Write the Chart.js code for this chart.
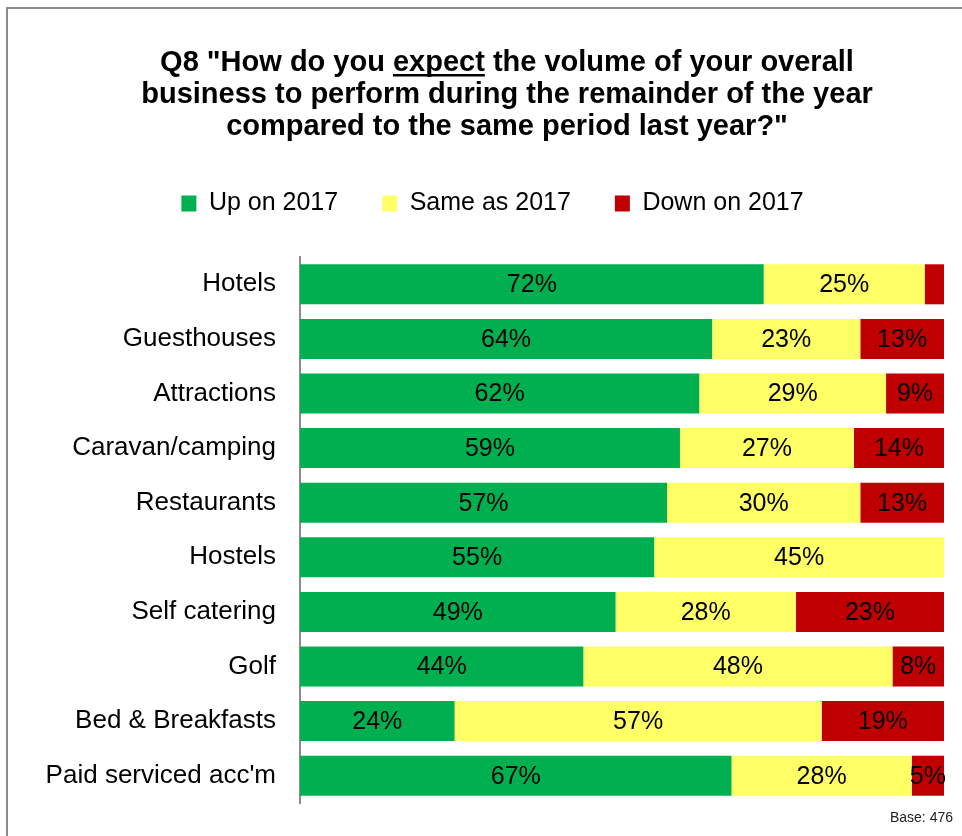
<!DOCTYPE html>
<html>
<head>
<meta charset="utf-8">
<script src="https://cdn.jsdelivr.net/npm/chart.js@4/dist/chart.umd.min.js"></script>
<style>
  html, body { margin: 0; padding: 0; background: #ffffff; }
  #wrap { position: relative; width: 962px; height: 836px; overflow: hidden; }
  #frame { position: absolute; left: 6px; top: 7px; right: -4px; bottom: -4px;
           border-left: 2px solid #8c8c8c; border-top: 2px solid #8c8c8c; }
  canvas { position: absolute; left: 0; top: 0; }
</style>
</head>
<body>
<div id="wrap">
  <div id="frame"></div>
  <canvas id="c" width="962" height="836"></canvas>
</div>
<script>
// Survey responses by business type (percent of respondents)
const categories = ['Hotels', 'Guesthouses', 'Attractions', 'Caravan/camping', 'Restaurants',
                    'Hostels', 'Self catering', 'Golf', 'Bed & Breakfasts', "Paid serviced acc'm"];
const upOn2017   = [72, 64, 62, 59, 57, 55, 49, 44, 24, 67];
const sameAs2017 = [25, 23, 29, 27, 30, 45, 28, 48, 57, 28];
const downOn2017 = [3, 13, 9, 14, 13, 0, 23, 8, 19, 5];
const seriesNames = ['Up on 2017', 'Same as 2017', 'Down on 2017'];
const titleLines = ['Q8 "How do you expect the volume of your overall',
                    'business to perform during the remainder of the year',
                    'compared to the same period last year?"'];
const underlinedWord = 'expect';
const baseNote = 'Base: 476';

const FONT = '"Liberation Sans", Arial, Helvetica, sans-serif';

// Title with the underlined key word, plus the base note
const headerPlugin = {
  id: 'header',
  afterDraw(chart) {
    const ctx = chart.ctx;
    ctx.save();
    ctx.fillStyle = '#000';
    ctx.font = 'bold 29px ' + FONT;
    ctx.textAlign = 'center';
    ctx.textBaseline = 'alphabetic';
    const cx = 507;
    const baselines = [71, 103, 135];
    titleLines.forEach((line, i) => ctx.fillText(line, cx, baselines[i]));
    // underline
    const line0 = titleLines[0];
    const full = ctx.measureText(line0).width;
    const idx = line0.indexOf(underlinedWord);
    const pre = ctx.measureText(line0.slice(0, idx)).width;
    const w = ctx.measureText(underlinedWord).width;
    const x0 = cx - full / 2 + pre;
    ctx.fillRect(x0, baselines[0] + 3, w, 2.5);
    // base note
    ctx.font = '14px ' + FONT;
    ctx.textAlign = 'right';
    ctx.textBaseline = 'middle';
    ctx.fillStyle = '#222';
    ctx.fillText(baseNote, 953, 818);
    ctx.restore();
  }
};

// Percent labels centred in each segment (segments under 5% stay unlabelled)
const valueLabels = {
  id: 'valueLabels',
  afterDatasetsDraw(chart) {
    const ctx = chart.ctx;
    ctx.save();
    ctx.font = '25px ' + FONT;
    ctx.fillStyle = '#000';
    ctx.textAlign = 'center';
    ctx.textBaseline = 'middle';
    chart.data.datasets.forEach((ds, di) => {
      const meta = chart.getDatasetMeta(di);
      meta.data.forEach((el, i) => {
        const v = ds.data[i];
        if (v < 5) return;
        const p = el.getProps(['x', 'y', 'base'], true);
        ctx.fillText(v + '%', (p.x + p.base) / 2, p.y + 1);
      });
    });
    ctx.restore();
  }
};

new Chart(document.getElementById('c'), {
  type: 'bar',
  data: {
    labels: categories,
    datasets: [
      { label: seriesNames[0], data: upOn2017,   backgroundColor: '#00B050', borderWidth: 0 },
      { label: seriesNames[1], data: sameAs2017, backgroundColor: '#FFFF66', borderWidth: 0 },
      { label: seriesNames[2], data: downOn2017, backgroundColor: '#C00000', borderWidth: 0 }
    ]
  },
  options: {
    indexAxis: 'y',
    responsive: false,
    devicePixelRatio: 1,
    animation: false,
    datasets: { bar: { categoryPercentage: 1, barPercentage: 0.733 } },
    layout: { padding: { top: 147, left: 41, right: 18, bottom: 33 } },
    plugins: {
      tooltip: { enabled: false },
      title: { display: false },
      legend: {
        position: 'top',
        labels: {
          color: '#000',
          font: { family: FONT, size: 25 },
          boxWidth: 15,
          boxHeight: 16,
          padding: 44
        }
      }
    },
    scales: {
      x: {
        position: 'top',
        stacked: true,
        min: 0,
        max: 100,
        ticks: { display: false },
        grid: { display: false, drawTicks: false },
        border: { display: false },
        afterFit(s) { s.height = 31; }
      },
      y: {
        stacked: true,
        ticks: { color: '#000', font: { family: FONT, size: 26 }, padding: 0, autoSkip: false },
        grid: { display: false, drawTicks: true, tickLength: 24, tickColor: 'rgba(0,0,0,0)' },
        border: { display: true, color: '#8c8c8c', width: 2 },
        afterFit(s) { s.width = 259; }
      }
    }
  },
  plugins: [valueLabels, headerPlugin]
});
</script>
</body>
</html>
